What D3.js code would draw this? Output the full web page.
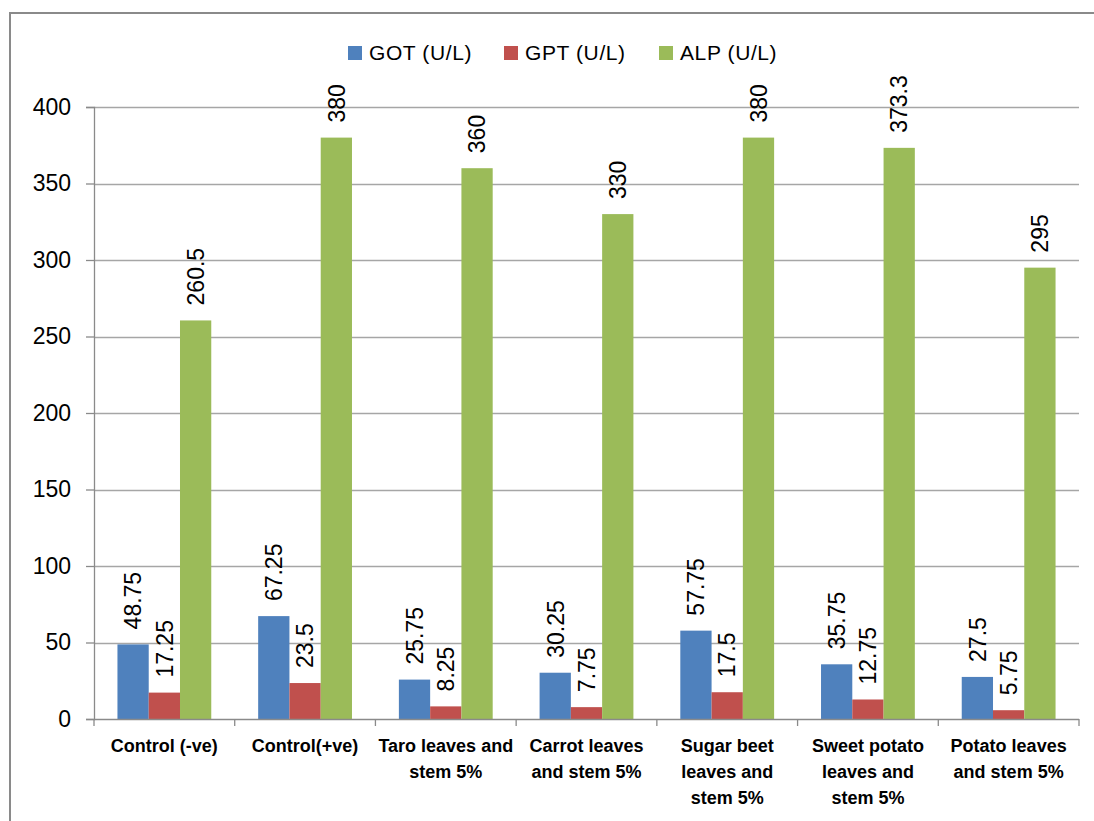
<!DOCTYPE html>
<html>
<head>
<meta charset="utf-8">
<script src="https://cdn.jsdelivr.net/npm/d3@7"></script>
<style>
  html, body { margin: 0; padding: 0; background: #fff; }
  svg { display: block; }
  text { font-family: "Liberation Sans", Arial, sans-serif; fill: #000; }
</style>
</head>
<body>
<svg id="chart" width="1094" height="821"></svg>
<script>
// Treatment groups (multi-line axis labels)
const categories = [
  ["Control (-ve)"],
  ["Control(+ve)"],
  ["Taro leaves and", "stem 5%"],
  ["Carrot leaves", "and stem 5%"],
  ["Sugar beet", "leaves and", "stem 5%"],
  ["Sweet potato", "leaves and", "stem 5%"],
  ["Potato leaves", "and stem 5%"]
];
const seriesNames = ["GOT (U/L)", "GPT (U/L)", "ALP (U/L)"];
const gotValues = [48.75, 67.25, 25.75, 30.25, 57.75, 35.75, 27.5];
const gptValues = [17.25, 23.5, 8.25, 7.75, 17.5, 12.75, 5.75];
const alpValues = [260.5, 380, 360, 330, 380, 373.3, 295];
const yTicks = [0, 50, 100, 150, 200, 250, 300, 350, 400];
const colors = ["#4F81BD", "#C0504D", "#9BBB59"];

const seriesValues = [gotValues, gptValues, alpValues];
const rows = categories.map((c, i) => ({
  key: i,
  lines: c,
  values: seriesValues.map((s, j) => ({ series: j, value: s[i] }))
}));

const svg = d3.select("#chart");

// Chart area frame (top and left edges)
svg.append("path")
  .attr("d", "M10,821 L10,13 L1094,13")
  .attr("fill", "none")
  .attr("stroke", "#8a8a8a")
  .attr("stroke-width", 2);

const plot = { left: 94, right: 1079, top: 107, bottom: 719 };

const x0 = d3.scaleBand()
  .domain(rows.map(r => r.key))
  .range([plot.left, plot.right])
  .paddingInner(0)
  .paddingOuter(0);

// Bars fill 3 of 4.5 slots in each group (150% gap)
const groupPad = x0.bandwidth() * 0.75 / 4.5;
const x1 = d3.scaleBand()
  .domain([0, 1, 2])
  .range([groupPad, x0.bandwidth() - groupPad])
  .padding(0);

const y = d3.scaleLinear().domain([0, 400]).range([plot.bottom, plot.top]);

// Gridlines
svg.append("g")
  .selectAll("line")
  .data(yTicks.filter(t => t > 0))
  .join("line")
  .attr("x1", plot.left)
  .attr("x2", plot.right)
  .attr("y1", d => Math.round(y(d)) + 0.5)
  .attr("y2", d => Math.round(y(d)) + 0.5)
  .attr("stroke", "#a6a6a6")
  .attr("stroke-width", 1.3);

// Y axis
const yAxis = svg.append("g")
  .attr("transform", `translate(${plot.left},0)`)
  .call(d3.axisLeft(y).tickValues(yTicks).tickSize(8).tickPadding(15));
yAxis.select(".domain").attr("stroke", "#8a8a8a").attr("stroke-width", 1.3);
yAxis.selectAll(".tick line").attr("stroke", "#8a8a8a").attr("stroke-width", 1.3);
yAxis.selectAll(".tick text")
  .attr("font-family", "Liberation Sans, Arial, sans-serif")
  .attr("font-size", 23)
  .attr("fill", "#000");

// Bars
const groups = svg.append("g")
  .selectAll("g")
  .data(rows)
  .join("g")
  .attr("transform", d => `translate(${x0(d.key)},0)`);

groups.selectAll("rect")
  .data(d => d.values)
  .join("rect")
  .attr("x", d => x1(d.series))
  .attr("width", x1.bandwidth())
  .attr("y", d => y(d.value))
  .attr("height", d => y(0) - y(d.value))
  .attr("fill", d => colors[d.series]);

// Value labels, rotated above each bar
groups.selectAll("text.val")
  .data(d => d.values)
  .join("text")
  .attr("class", "val")
  .attr("transform", d => `translate(${x1(d.series) + x1.bandwidth() / 2},${y(d.value) - 15}) rotate(-90)`)
  .attr("dy", "0.36em")
  .attr("font-size", 23)
  .attr("text-anchor", "start")
  .text(d => d.value);

// X axis line and group separators
const xAxisG = svg.append("g");
xAxisG.append("line")
  .attr("x1", plot.left).attr("x2", plot.right)
  .attr("y1", plot.bottom + 0.5).attr("y2", plot.bottom + 0.5)
  .attr("stroke", "#8a8a8a").attr("stroke-width", 1.3);
const sepPositions = rows.map(r => x0(r.key)).concat([plot.right]);
xAxisG.selectAll("line.sep")
  .data(sepPositions)
  .join("line")
  .attr("class", "sep")
  .attr("x1", d => d).attr("x2", d => d)
  .attr("y1", plot.bottom).attr("y2", plot.bottom + 7)
  .attr("stroke", "#8a8a8a").attr("stroke-width", 1.3);

// Category labels
const catLabels = svg.append("g")
  .selectAll("text")
  .data(rows)
  .join("text")
  .attr("x", d => x0(d.key) + x0.bandwidth() / 2)
  .attr("y", 752)
  .attr("text-anchor", "middle")
  .attr("font-size", 18)
  .attr("font-weight", "bold");
catLabels.selectAll("tspan")
  .data(d => d.lines.map((l, i) => ({ l, i, cx: x0(d.key) + x0.bandwidth() / 2 })))
  .join("tspan")
  .attr("x", d => d.cx)
  .attr("dy", d => d.i === 0 ? 0 : 26)
  .text(d => d.l);

// Legend
const legendX = [348, 504, 659];
const legend = svg.append("g")
  .selectAll("g")
  .data(seriesNames)
  .join("g")
  .attr("transform", (d, i) => `translate(${legendX[i]},46)`);
legend.append("rect")
  .attr("width", 14).attr("height", 14)
  .attr("fill", (d, i) => colors[i]);
legend.append("text")
  .attr("x", 21)
  .attr("y", 14)
  .attr("font-size", 21)
  .attr("letter-spacing", 0.6)
  .text(d => d);
</script>
</body>
</html>
